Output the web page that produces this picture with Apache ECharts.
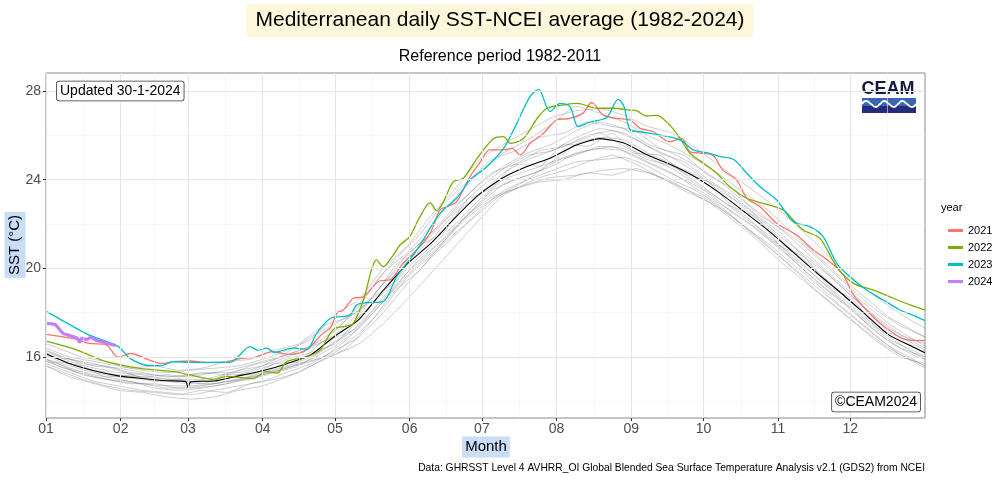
<!DOCTYPE html>
<html><head><meta charset="utf-8">
<script src="https://cdn.jsdelivr.net/npm/echarts@6/dist/echarts.min.js"></script>
<style>html,body{margin:0;padding:0;background:#fff}#c{width:1000px;height:480px}</style>
</head><body><div id="c"></div>
<script>
const monthStarts = [1,32,60,91,121,152,182,213,244,274,305,335];
const monthLabels = ['01','02','03','04','05','06','07','08','09','10','11','12'];
const yTicks = [16,20,24,28];
const yMinor = [14,18,22,26];

const meanDays = [1,11,21,31,41,51,59,60,61,71,81,91,101,111,121,131,141,151,161,171,181,191,201,211,221,231,241,251,261,271,281,291,301,311,321,331,341,351,361,366];
const meanSST = [16.15,15.7,15.38,15.15,15.03,14.93,14.89,14.62,14.88,14.92,15.15,15.38,15.7,16.1,16.95,17.7,19.0,20.2,21.15,22.3,23.35,24.1,24.6,25.0,25.55,25.85,25.65,25.1,24.65,24.1,23.38,22.55,21.7,20.75,19.8,18.9,17.95,17.0,16.45,16.19];

const greyDaysA = [1,11,21,31,41,51,61,71,81,91,101,111,121,131,141,151,161,171,181,191,201,211,221,231,241,251,261,271,281,291,301,311,321,331,341,351,361,366];
const grey1 = [16.4,16.0,15.8,15.6,15.4,15.3,15.4,15.5,15.6,15.9,16.3,16.8,17.9,18.6,20.0,21.0,22.4,23.6,24.9,25.6,26.2,26.8,27.1,27.2,26.9,26.4,26.1,25.4,24.6,23.8,23.0,22.1,21.1,20.0,19.1,18.3,17.6,17.3];
const grey2 = [16.0,15.9,15.6,15.5,15.3,15.1,15.2,15.3,15.5,15.8,16.1,16.5,17.2,18.3,19.8,20.7,21.9,23.2,24.3,25.2,25.8,26.5,27.3,27.0,26.6,26.0,25.5,24.9,24.2,23.4,22.6,21.6,20.6,19.6,18.7,17.8,17.2,16.9];
const grey3 = [16.3,15.8,15.5,15.3,15.2,15.0,14.9,15.1,15.4,15.6,16.0,16.4,17.0,18.0,19.3,20.6,21.6,22.8,23.8,24.6,25.2,25.6,26.2,26.6,26.3,25.6,25.2,24.6,23.9,23.0,22.2,21.3,20.3,19.3,18.4,17.5,16.8,16.5];
const grey4 = [15.9,15.6,15.3,15.1,15.0,14.9,14.8,14.8,15.0,15.3,15.6,16.0,16.7,17.4,18.7,20.0,21.0,22.0,23.1,24.0,24.4,24.8,25.6,25.9,25.8,25.2,24.7,24.2,23.6,22.7,21.8,20.8,19.9,18.9,18.0,17.0,16.5,16.2];
const grey5 = [16.1,15.7,15.4,15.2,15.1,15.0,15.0,14.9,15.2,15.5,15.9,16.2,16.6,17.8,18.9,20.3,21.3,22.5,23.3,24.3,24.9,25.3,25.7,26.1,25.5,25.0,24.5,23.8,23.1,22.3,21.5,20.5,19.6,18.6,17.7,16.8,16.3,16.0];
const grey6 = [15.8,15.4,15.1,14.9,14.8,14.6,14.6,14.7,14.9,15.2,15.5,15.9,16.5,17.3,18.5,19.8,20.8,21.9,22.9,23.8,24.2,24.6,25.2,25.4,25.3,24.8,24.3,23.6,22.9,22.2,21.3,20.4,19.4,18.5,17.6,16.7,16.1,15.9];
const grey7 = [15.7,15.3,14.9,14.7,14.5,14.4,14.3,14.5,14.7,14.9,15.3,15.7,16.3,16.9,18.0,19.3,20.5,21.5,22.6,23.5,24.0,24.4,24.8,24.9,25.0,24.6,24.0,23.5,22.8,21.9,21.1,20.2,19.3,18.3,17.4,16.5,15.9,15.6];
const grey8 = [15.6,15.1,14.8,14.5,14.4,14.2,14.1,14.2,14.5,14.7,15.1,15.6,16.1,16.6,17.5,18.6,19.8,21.0,22.2,23.3,23.8,24.1,24.2,24.4,24.5,24.3,23.9,23.3,22.7,21.9,21.0,20.0,19.0,18.1,17.2,16.4,15.8,15.5];
const grey9 = [16.2,15.9,15.7,15.4,15.1,15.2,15.1,15.3,15.3,15.6,16.2,16.9,17.5,18.1,19.3,20.4,21.5,22.6,23.6,24.5,25.1,25.3,25.9,26.3,26.1,25.5,25.0,24.3,23.5,22.8,21.9,21.0,20.2,19.2,18.2,17.3,16.7,16.4];
const grey10 = [15.9,15.5,15.2,15.0,14.8,14.7,14.7,14.8,15.0,15.2,15.5,15.8,16.2,17.1,18.2,19.6,20.6,21.6,22.5,23.4,24.0,24.8,25.1,25.5,25.4,24.9,24.6,23.9,23.1,22.4,21.4,20.6,19.6,18.7,17.8,16.9,16.2,15.9];

const greyDaysB = [1,6,16,26,36,46,56,66,76,86,96,106,116,126,136,146,156,166,176,186,196,206,216,226,236,246,256,266,276,286,296,306,316,326,336,346,356,366];
const grey11 = [16.6,16.4,16.0,15.8,15.5,15.6,15.4,15.5,15.8,15.9,16.3,16.6,17.4,17.8,19.1,20.4,21.5,22.9,23.9,24.9,25.3,25.9,26.1,26.6,26.4,26.2,25.4,25.1,24.2,23.6,22.5,21.8,21.0,20.0,19.0,18.1,17.4,16.9];
const grey12 = [15.6,15.4,15.0,14.7,14.5,14.4,14.3,14.5,14.4,14.8,15.0,15.3,15.9,16.4,17.6,19.0,19.9,21.2,22.3,23.1,23.6,24.1,24.4,24.8,25.1,24.7,24.1,23.6,23.1,22.3,21.4,20.5,19.6,18.7,17.8,16.9,16.1,15.6];
const grey13 = [16.2,15.8,15.6,15.1,15.2,14.9,15.0,14.8,15.2,15.2,15.7,15.8,16.7,17.1,18.6,19.4,21.0,21.6,23.1,23.6,24.7,24.6,25.6,25.5,26.1,25.2,25.1,24.3,23.9,22.8,22.3,21.0,20.5,19.2,18.6,17.3,16.9,16.3];
const grey14 = [16.3,16.1,15.7,15.6,15.3,15.2,15.1,15.3,15.2,15.6,15.9,16.3,16.7,17.7,18.6,20.1,21.1,22.1,23.3,24.3,24.7,25.3,25.5,26.0,26.2,25.8,25.2,24.8,24.0,23.3,22.4,21.6,20.5,19.7,18.7,17.8,17.0,16.6];
const grey15 = [15.8,15.7,15.2,15.0,14.8,14.8,14.6,14.7,14.9,15.0,15.3,15.6,16.3,17.0,18.0,19.2,20.4,21.3,22.4,23.5,24.0,24.4,25.0,25.3,25.5,25.0,24.5,24.0,23.4,22.5,21.8,20.9,19.9,19.0,18.1,17.1,16.4,16.0];
const grey16 = [15.9,15.6,15.3,15.0,14.9,14.6,14.5,14.6,14.8,15.1,15.4,15.7,16.0,16.8,17.9,19.1,20.2,21.2,22.4,23.2,23.6,23.9,24.0,24.3,24.2,24.5,24.1,23.5,23.0,22.2,21.3,20.3,19.4,18.5,17.6,16.7,16.0,15.7];

const sst2021 = [[1,17.02],[12,16.84],[19,16.62],[26,16.55],[31,15.99],[36,16.16],[44,15.86],[49,15.71],[54,15.79],[61,15.82],[68,15.75],[76,15.79],[82,15.94],[88,16.0],[95,16.24],[102,16.12],[109,16.31],[116,17.07],[119,17.3],[122,18.0],[124.5,18.12],[128.6,18.65],[132.8,18.72],[139.7,19.44],[143.8,19.48],[149.3,20.23],[155,20.83],[160.5,21.58],[164.6,22.63],[167.4,22.78],[171.5,23.0],[177,24.13],[181,24.74],[185.3,25.34],[191,25.34],[194.5,25.41],[198,25.11],[202,25.64],[207.6,26.09],[213,26.69],[218.6,26.76],[224,27.0],[227.6,27.48],[232.4,26.91],[238,26.76],[243.6,26.69],[247.7,26.31],[253.2,26.16],[260,25.71],[265,25.86],[268.4,25.26],[272.5,25.2],[278,25.09],[282,24.44],[287.8,23.98],[292,23.16],[297.5,22.78],[304.4,22.03],[312.7,21.5],[319.6,20.83],[326.5,20.3],[332,19.7],[336.3,18.8],[341.7,18.12],[347.3,17.52],[352.9,17.07],[358.4,16.77],[366,16.74]];
const sst2022 = [[1,16.72],[12,16.39],[19,16.09],[26,15.79],[40,15.49],[54,15.34],[61,15.19],[70.6,14.99],[76,15.13],[87,15.03],[92.6,15.34],[96.8,15.27],[101,15.79],[109.3,16.01],[114.8,16.31],[119,17.07],[121,17.3],[124.5,17.37],[128.6,17.52],[132.8,18.57],[138.3,20.38],[141,20.08],[145.2,20.6],[148,21.05],[152,21.43],[156.3,22.33],[160.5,22.96],[163.2,22.6],[166,23.0],[170.2,23.91],[174.3,24.06],[180,24.96],[186.9,25.86],[191,25.94],[193.8,25.64],[199.3,25.86],[205,26.77],[209,27.22],[216,27.37],[221.4,27.44],[230,27.22],[236.8,27.22],[243.5,27.14],[246.3,27.1],[250.5,26.87],[254.6,26.9],[260,26.46],[264.3,25.86],[268.4,25.19],[274,24.74],[279.5,24.29],[285,23.68],[292,23.16],[298.8,22.93],[307.2,22.63],[311.3,22.18],[315.4,21.73],[322.4,21.35],[329.3,20.08],[336.3,19.32],[344.6,19.02],[352.9,18.65],[359.8,18.35],[366,18.12]];
const sst2023 = [[1,18.07],[12.3,17.37],[19,16.99],[31,16.47],[36,15.93],[44.3,15.61],[48.7,15.61],[54,15.79],[60.8,15.76],[67.7,15.76],[77.4,15.76],[85.8,16.47],[89,16.3],[92.6,16.4],[96,16.2],[99.6,16.31],[104,16.4],[109.3,16.35],[113.4,17.07],[119,17.74],[127.2,17.89],[130,18.35],[134,18.45],[141,18.5],[146.6,19.62],[155,20.83],[164.6,22.48],[171.5,23.16],[177,23.98],[184,24.58],[191,25.41],[196.5,26.54],[202,27.74],[205.5,28.07],[210.3,27.07],[214.5,27.44],[218.6,27.29],[222,26.39],[227,26.6],[233.8,26.8],[238.6,27.62],[241,27.3],[243.6,26.24],[247.7,26.16],[256,26.01],[264.3,25.79],[269.8,25.34],[275.3,25.22],[281,25.04],[286.4,24.92],[292,24.29],[297.5,23.68],[304.4,23.08],[311.3,22.1],[318.2,21.88],[323.7,21.43],[329.3,20.23],[334.8,19.62],[341.7,19.02],[348.7,18.57],[355.6,18.12],[361,17.89],[366,17.64]];
const sst2024 = [[1,17.52],[3,17.5],[5,17.45],[8,17.07],[10,17.0],[12.3,16.92],[14,16.85],[15,16.68],[16,16.85],[18,16.8],[19.5,16.88],[22,16.75],[24,16.7],[27,16.6],[30,16.52]];

const yearNames = ['2021','2022','2023','2024'];
const yearColors = ['#F8766D','#7CAE00','#00BFC4','#C77CFF'];

const FONT = 'Liberation Sans, Arial, sans-serif';
const chart = echarts.init(document.getElementById('c'), null, {renderer:'canvas'});

const greySets = [
  [greyDaysA,[grey1,grey2,grey3,grey4,grey5,grey6,grey7,grey8,grey9,grey10]],
  [greyDaysB,[grey11,grey12,grey13,grey14,grey15,grey16]]
];
const minorX = monthStarts.map((d,i)=> (d + (i<monthStarts.length-1 ? monthStarts[i+1] : 366))/2);

const gridLines = [];
yTicks.forEach(v=>gridLines.push({yAxis:v, lineStyle:{color:'#e6e6e6', width:1, type:'solid'}}));
yMinor.forEach(v=>gridLines.push({yAxis:v, lineStyle:{color:'#f1f1f1', width:0.6, type:'solid'}}));
monthStarts.forEach(v=>gridLines.push({xAxis:v, lineStyle:{color:'#e6e6e6', width:1, type:'solid'}}));
minorX.forEach(v=>gridLines.push({xAxis:v, lineStyle:{color:'#f1f1f1', width:0.6, type:'solid'}}));

const series = [];
series.push({name:'gridlines', type:'line', data:[[1,13.25]], symbol:'none', lineStyle:{opacity:0}, silent:true, z:0,
  markLine:{silent:true, symbol:'none', label:{show:false}, animation:false, data:gridLines}});
greySets.forEach(([days,lines],k)=>lines.forEach((g,i)=>series.push({name:'g'+k+'_'+i, type:'line', data:days.map((d,j)=>[d,g[j]]), symbol:'none', smooth:0.15,
  lineStyle:{color:'rgba(110,110,110,0.38)', width:0.9}, silent:true, z:1})));
series.push({name:'mean', type:'line', data:meanDays.map((d,j)=>[d,meanSST[j]]), symbol:'none', smooth:0.2,
  lineStyle:{color:'#000', width:1.1}, z:3});
[sst2021,sst2022,sst2023,sst2024].forEach((s,i)=>series.push({name:yearNames[i], type:'line', data:s, symbol:'none', smooth:0.3,
  lineStyle:{color:yearColors[i], width: i===3?3.2:1.3}, itemStyle:{color:yearColors[i]}, z:4}));

chart.setOption({
  animation:false,
  backgroundColor:'#fff',
  title:[
    {text:'Mediterranean daily SST-NCEI average (1982-2024)', left:'center', top:4, backgroundColor:'#fff7dc', padding:[6,9,6,9],
     textStyle:{fontFamily:FONT, fontSize:21, fontWeight:'normal', color:'#000'}},
    {text:'Reference period 1982-2011', left:'center', top:44, textStyle:{fontFamily:FONT, fontSize:16, fontWeight:'normal', color:'#000'}}
  ],
  grid:{left:46, right:75, top:73, bottom:62, show:true, borderColor:'#8a8a8a', borderWidth:1, backgroundColor:'#fff'},
  xAxis:{type:'value', min:1, max:366,
    axisLine:{show:false}, splitLine:{show:false},
    axisTick:{show:true, customValues:monthStarts, length:3, lineStyle:{color:'#333'}},
    axisLabel:{customValues:monthStarts, formatter:(v)=>monthLabels[monthStarts.indexOf(v)]||'', fontFamily:FONT, fontSize:14, color:'#4d4d4d', margin:4}},
  yAxis:{type:'value', min:13.25, max:28.81,
    axisLine:{show:false}, splitLine:{show:false},
    axisTick:{show:true, customValues:yTicks, length:3, lineStyle:{color:'#333'}},
    axisLabel:{customValues:yTicks, fontFamily:FONT, fontSize:14, color:'#4d4d4d', margin:5}},
  legend:{data:yearNames.map((n,i)=>({name:n, icon:'rect', itemStyle:{color:yearColors[i]}})), orient:'vertical', left:943, top:220,
    itemWidth:15, itemHeight:3, itemGap:6, textStyle:{fontFamily:FONT, fontSize:11, color:'#000'}},
  graphic:[
    {type:'text', left:941, top:202, style:{text:'year', font:'11px '+FONT, fill:'#000'}},
    {type:'text', x:15, y:245, rotation:Math.PI/2, style:{text:'SST (°C)', font:'15px '+FONT, fill:'#000', align:'center', verticalAlign:'middle', backgroundColor:'#c9ddf6', padding:[3,3,3,3]}},
    {type:'text', x:486, y:447, style:{text:'Month', font:'15px '+FONT, fill:'#000', align:'center', verticalAlign:'middle', backgroundColor:'#c9ddf6', padding:[3,3,3,3]}},
    {type:'text', x:925, y:468, style:{text:'Data: GHRSST Level 4 AVHRR_OI Global Blended Sea Surface Temperature Analysis v2.1 (GDS2) from NCEI', font:'10.3px '+FONT, fill:'#000', align:'right', verticalAlign:'middle'}},
    {type:'text', x:57, y:91, z:10, style:{text:'Updated 30-1-2024', font:'14px '+FONT, fill:'#000', align:'left', verticalAlign:'middle', backgroundColor:'#fff', borderColor:'#333', borderWidth:0.8, borderRadius:2, padding:[3,3,2,3]}},
    {type:'text', x:920, y:402, z:10, style:{text:'©CEAM2024', font:'14px '+FONT, fill:'#000', align:'right', verticalAlign:'middle', backgroundColor:'#fff', borderColor:'#333', borderWidth:0.8, borderRadius:2, padding:[3,3,2,3]}},
    {type:'group', x:861, y:79, z:10, children:[
      {type:'text', x:27, y:10, style:{text:'CEAM', font:'bold 18px '+FONT, fill:'#141a3c', align:'center', verticalAlign:'middle'}},
      {type:'rect', shape:{x:1, y:19, width:54, height:8}, style:{fill:'#3a66b6'}},
      {type:'rect', shape:{x:1, y:27, width:54, height:7}, style:{fill:'#252c7c'}},
      {type:'polyline', shape:{points:[[1,25],[5,22],[10,25],[15,28],[19,25],[23,22],[28,25],[33,28],[37,25],[41,22],[46,25],[51,28],[55,25]], smooth:0.6}, style:{stroke:'#fff', lineWidth:1.8, fill:null}}
    ]}
  ],
  series:series
});
</script></body></html>
